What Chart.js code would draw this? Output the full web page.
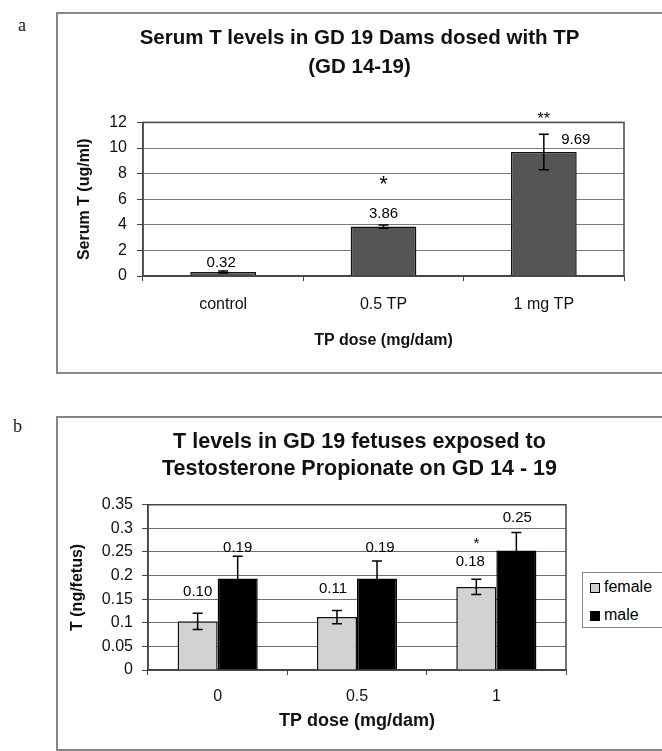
<!DOCTYPE html>
<html>
<head>
<meta charset="utf-8">
<script src="https://cdn.jsdelivr.net/npm/chart.js@4.4.1/dist/chart.umd.min.js"></script>
<style>
html, body { margin: 0; padding: 0; background: #fff; overflow: hidden; }
body { position: relative; width: 662px; height: 751px; font-family: "Liberation Sans", Arial, sans-serif; }
.tag { position: absolute; font-family: "Liberation Serif", "DejaVu Serif", serif; font-size: 18px; color: #222; }
.frame { position: absolute; border: 2px solid #858585; box-sizing: border-box; }
canvas { position: absolute; }
#legendB { position: absolute; left: 582px; top: 572px; width: 110px; height: 56px; border: 1.5px solid #858585; box-sizing: border-box; background: #fff; font-size: 16px; color: #000; }
#legendB .row { height: 28px; line-height: 28px; white-space: nowrap; }
#legendB .sw { display: inline-block; width: 8px; height: 8px; border: 1px solid #000; margin: 0 4px 0 7px; vertical-align: -1px; }
</style>
</head>
<body>
<div class="tag" style="left:18px; top:15px;">a</div>
<div class="frame" style="left:56px; top:12px; width:640px; height:362px;"></div>
<canvas id="chartA" width="605" height="360" style="left:57px; top:13px;"></canvas>

<div class="tag" style="left:13px; top:416px;">b</div>
<div class="frame" style="left:56px; top:416px; width:640px; height:335px;"></div>
<canvas id="chartB" width="605" height="332" style="left:57px; top:417px;"></canvas>
<div id="legendB"></div>

<script>
// panel a - dams
const catsA = ['control', '0.5 TP', '1 mg TP'];
const serumT = [0.32, 3.86, 9.69];
const serumErr = [0.08, 0.12, 1.38];
const sigA = ['', '*', '**'];
const ticksA = [0, 2, 4, 6, 8, 10, 12];

// panel b - fetuses
const catsB = ['0', '0.5', '1'];
const femaleT = [0.103, 0.112, 0.176];
const femaleErr = [0.017, 0.014, 0.016];
const maleT = [0.194, 0.194, 0.253];
const maleErr = [0.047, 0.037, 0.038];
const sigFemale = ['', '', '*'];
const sigMale = ['', '', ''];
const ticksB = [0, 0.05, 0.1, 0.15, 0.2, 0.25, 0.3, 0.35];

const FAM = "'Liberation Sans', Arial, sans-serif";

const plotFrame = {
  id: 'plotFrame',
  beforeDatasetsDraw(chart) {
    const {ctx, chartArea: a} = chart;
    ctx.save();
    ctx.strokeStyle = '#444';
    ctx.lineWidth = 1.5;
    ctx.strokeRect(a.left, a.top, a.right - a.left, a.bottom - a.top);
    ctx.restore();
  }
};

const errorBars = {
  id: 'errorBars',
  afterDatasetsDraw(chart, args, opts) {
    const ctx = chart.ctx, y = chart.scales.y;
    chart.data.datasets.forEach((ds, i) => {
      if (!ds.errors) return;
      chart.getDatasetMeta(i).data.forEach((bar, j) => {
        const v = ds.data[j], e = ds.errors[j];
        const top = y.getPixelForValue(v + e), bot = y.getPixelForValue(v - e);
        ctx.save();
        ctx.strokeStyle = '#000';
        ctx.lineWidth = 1.5;
        ctx.beginPath();
        ctx.moveTo(bar.x, top); ctx.lineTo(bar.x, bot);
        ctx.moveTo(bar.x - opts.cap, top); ctx.lineTo(bar.x + opts.cap, top);
        ctx.moveTo(bar.x - opts.cap, bot); ctx.lineTo(bar.x + opts.cap, bot);
        ctx.stroke();
        ctx.restore();
      });
    });
  }
};

// value labels and significance stars above the bars
const barNotes = {
  id: 'barNotes',
  afterDatasetsDraw(chart, args, opts) {
    const ctx = chart.ctx;
    chart.data.datasets.forEach((ds, i) => {
      chart.getDatasetMeta(i).data.forEach((bar, j) => {
        const off = opts.offsets[i][j];
        ctx.save();
        ctx.fillStyle = '#000';
        ctx.textAlign = 'center';
        ctx.textBaseline = 'middle';
        ctx.font = '15px ' + FAM;
        ctx.fillText(ds.data[j].toFixed(2), bar.x + off[0], bar.y + off[1]);
        if (ds.sig && ds.sig[j]) {
          ctx.font = opts.sigFont[j] + 'px ' + FAM;
          ctx.fillText(ds.sig[j], bar.x, bar.y + opts.sigDy[i][j]);
        }
        ctx.restore();
      });
    });
  }
};

function tickFont(size) { return { family: FAM, size: size }; }
function boldFont(size, lh) { return { family: FAM, size: size, weight: 'bold', lineHeight: lh || 1.2 }; }

// empty right-hand axis that only reserves room, so the title stays centred on the whole panel
function spacer(w) {
  return {
    position: 'right',
    display: true,
    grid: { display: false, drawTicks: false },
    border: { display: false },
    ticks: { display: false },
    afterFit: s => { s.width = w; }
  };
}

const chartA = new Chart(document.getElementById('chartA'), {
  type: 'bar',
  data: {
    labels: catsA,
    datasets: [{
      label: 'Serum T',
      data: serumT,
      errors: serumErr,
      sig: sigA,
      yAxisID: 'y',
      backgroundColor: '#555555',
      borderColor: '#111',
      borderWidth: 1.5,
      categoryPercentage: 0.41,
      barPercentage: 1
    }]
  },
  options: {
    responsive: false,
    animation: false,
    layout: { padding: 0 },
    plugins: {
      legend: { display: false },
      tooltip: { enabled: false },
      title: {
        display: true,
        text: ['Serum T levels in GD 19 Dams dosed with TP', '(GD 14-19)'],
        color: '#111',
        font: boldFont(20.5, 1.4),
        padding: { top: 11, bottom: 41 }
      },
      errorBars: { cap: 5 },
      barNotes: {
        offsets: [[[-2, -9], [0, -13], [32, -12]]],
        sigDy: [[0, -42, -32]],
        sigFont: [0, 22, 16]
      }
    },
    scales: {
      x: {
        grid: { drawOnChartArea: false, drawTicks: true, tickLength: 5, color: '#444', offset: true },
        border: { display: true, color: '#444', width: 1.5 },
        ticks: { padding: 14, color: '#111', font: tickFont(16), maxRotation: 0, autoSkip: false },
        title: { display: true, text: 'TP dose (mg/dam)', color: '#111', font: boldFont(16), padding: { top: 0, bottom: 23 } },
        afterFit: s => { s.height = 97; }
      },
      y: {
        min: 0,
        max: 12,
        afterBuildTicks: s => { s.ticks = ticksA.map(v => ({ value: v })); },
        grid: { color: '#7a7a7a', lineWidth: 1, drawTicks: true, tickLength: 6, tickColor: '#444' },
        border: { display: true, color: '#444', width: 1.5 },
        ticks: { padding: 10, color: '#111', font: tickFont(16) },
        title: { display: true, text: 'Serum T (ug/ml)', color: '#111', font: boldFont(16), padding: { top: 18, bottom: 0 } },
        afterFit: s => { s.width = 86; }
      },
      yRight: spacer(38)
    }
  },
  plugins: [plotFrame, errorBars, barNotes]
});

const chartB = new Chart(document.getElementById('chartB'), {
  type: 'bar',
  data: {
    labels: catsB,
    datasets: [{
      label: 'female',
      data: femaleT,
      errors: femaleErr,
      sig: sigFemale,
      yAxisID: 'y',
      backgroundColor: '#d2d2d2',
      borderColor: '#111',
      borderWidth: 1.5,
      categoryPercentage: 0.575,
      barPercentage: 1
    }, {
      label: 'male',
      data: maleT,
      errors: maleErr,
      sig: sigMale,
      yAxisID: 'y',
      backgroundColor: '#000',
      borderColor: '#000',
      borderWidth: 1.5,
      categoryPercentage: 0.575,
      barPercentage: 1
    }]
  },
  options: {
    responsive: false,
    animation: false,
    layout: { padding: 0 },
    plugins: {
      legend: { display: false },
      tooltip: { enabled: false },
      title: {
        display: true,
        text: ['T levels in GD 19 fetuses exposed to', 'Testosterone Propionate on GD 14 - 19'],
        color: '#111',
        font: boldFont(21.5, 1.25),
        padding: { top: 12, bottom: 22 }
      },
      errorBars: { cap: 5 },
      barNotes: {
        offsets: [[[0, -30], [-4, -28], [-6, -25]], [[0, -31], [3, -31], [1, -33]]],
        sigDy: [[0, 0, -43], [0, 0, 0]],
        sigFont: [0, 0, 15]
      }
    },
    scales: {
      x: {
        grid: { drawOnChartArea: false, drawTicks: true, tickLength: 5, color: '#444', offset: true },
        border: { display: true, color: '#444', width: 1.5 },
        ticks: { padding: 12, color: '#111', font: tickFont(16), maxRotation: 0, autoSkip: false },
        title: { display: true, text: 'TP dose (mg/dam)', color: '#111', font: boldFont(18), padding: { top: 0, bottom: 17 } },
        afterFit: s => { s.height = 79; }
      },
      y: {
        min: 0,
        max: 0.35,
        afterBuildTicks: s => { s.ticks = ticksB.map(v => ({ value: v })); },
        grid: { color: '#6e6e6e', lineWidth: 1, drawTicks: true, tickLength: 6, tickColor: '#444' },
        border: { display: true, color: '#444', width: 1.5 },
        ticks: { padding: 9, color: '#111', font: tickFont(16), callback: v => String(v) },
        title: { display: true, text: 'T (ng/fetus)', color: '#111', font: boldFont(16), padding: { top: 11, bottom: 0 } },
        afterFit: s => { s.width = 91; }
      },
      yRight: spacer(96)
    }
  },
  plugins: [plotFrame, errorBars, barNotes]
});

// legend box for panel b, built from the chart's datasets
const legendB = document.getElementById('legendB');
chartB.data.datasets.forEach(ds => {
  const row = document.createElement('div');
  row.className = 'row';
  const sw = document.createElement('span');
  sw.className = 'sw';
  sw.style.background = ds.backgroundColor;
  row.appendChild(sw);
  row.appendChild(document.createTextNode(ds.label));
  legendB.appendChild(row);
});
</script>
</body>
</html>
